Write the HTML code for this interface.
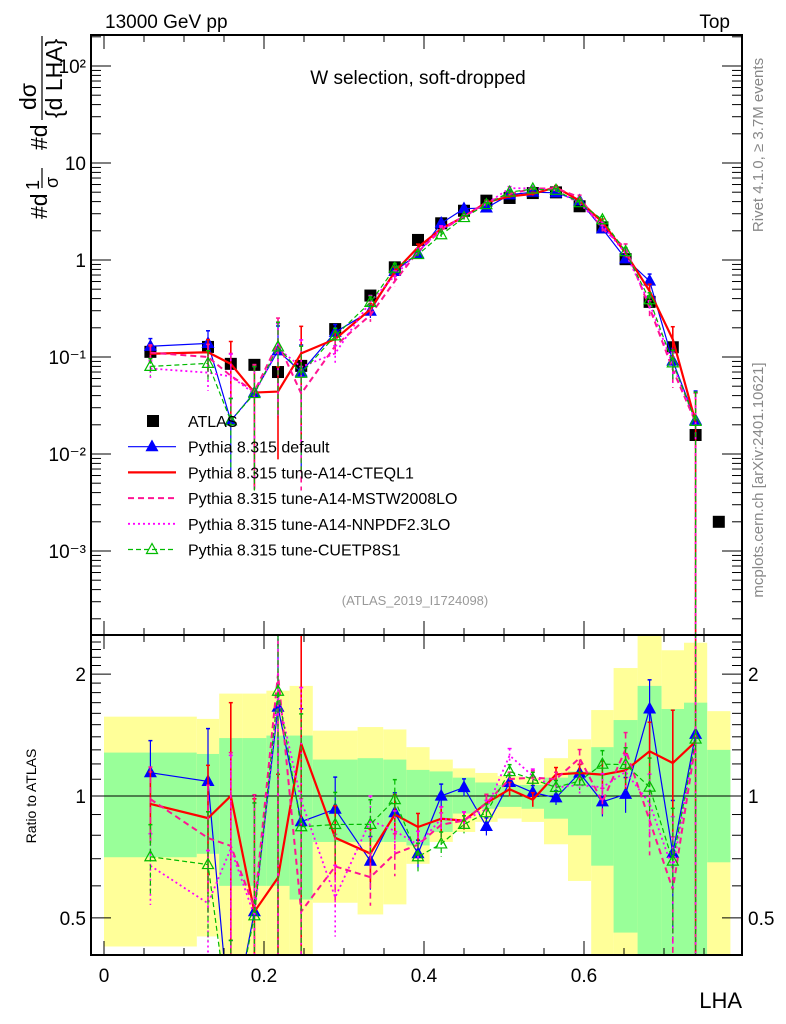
<!DOCTYPE html>
<html><head><meta charset="utf-8"><style>
html,body{margin:0;padding:0;background:#fff;overflow:hidden;width:786px;height:1024px;}
svg{display:block;font-family:"Liberation Sans","DejaVu Sans",sans-serif;}
</style></head><body>
<svg id="c" width="786" height="1024" viewBox="0 0 786 1024" xmlns="http://www.w3.org/2000/svg">
<defs>
<clipPath id="cm"><rect x="91" y="35" width="651" height="600"/></clipPath>
<clipPath id="cr"><rect x="91" y="635" width="651" height="320"/></clipPath>
</defs>
<rect x="0" y="0" width="786" height="1024" fill="#fff"/>
<g id="ratioBands" clip-path="url(#cr)"></g>
<g id="mainMarks" clip-path="url(#cm)"></g>
<g id="ratioMarks" clip-path="url(#cr)"></g>
<g id="axes"></g>
<text x="105" y="28" font-size="19">13000 GeV pp</text>
<text x="730" y="28" font-size="19" text-anchor="end">Top</text>
<text x="418" y="84" font-size="19" text-anchor="middle">W selection, soft-dropped</text>
<text x="415" y="605" font-size="13" fill="#999" text-anchor="middle">(ATLAS_2019_I1724098)</text>
<text transform="translate(763,145) rotate(-90)" font-size="15" fill="#888" text-anchor="middle">Rivet 4.1.0, ≥ 3.7M events</text>
<text transform="translate(763,480) rotate(-90)" font-size="15" fill="#888" text-anchor="middle">mcplots.cern.ch [arXiv:2401.10621]</text>
<g font-size="23">
<text transform="translate(47,219) rotate(-90)">#d</text>
<text transform="translate(39,190) rotate(-90)" font-size="18">1</text>
<line x1="42" y1="168" x2="42" y2="188" stroke="#000" stroke-width="1.2"/>
<text transform="translate(58,188) rotate(-90)" font-size="18">σ</text>
<text transform="translate(47,150) rotate(-90)">#d</text>
<text transform="translate(36,110) rotate(-90)">dσ</text>
<line x1="42" y1="36" x2="42" y2="120" stroke="#000" stroke-width="1.2"/>
<text transform="translate(62,118) rotate(-90)">{d LHA}</text>
</g>
<text transform="translate(36,796) rotate(-90)" font-size="14" text-anchor="middle">Ratio to ATLAS</text>
<text x="742" y="1008" font-size="22" text-anchor="end">LHA</text>
<g id="legend"></g>
</svg>
<script>
const binEdges=[0,0.116,0.144,0.173,0.203,0.232,0.261,0.317,0.349,0.378,0.407,0.436,0.464,0.492,0.522,0.55,0.58,0.609,0.637,0.667,0.697,0.725,0.754,0.783];
const atlas=[0.113,0.127,0.085,0.083,0.070,0.081,0.194,0.43,0.84,1.61,2.39,3.22,4.09,4.36,4.9,4.98,3.58,2.17,1.02,0.37,0.126,0.0157,0.0020];
const pyDefault=[0.129,0.138,0.022,0.043,0.116,0.070,0.180,0.297,0.764,1.16,2.39,3.38,3.44,4.71,5.0,4.93,4.08,2.10,1.03,0.607,0.091,0.0223];
const pyCTEQ=[0.108,0.112,0.085,0.043,0.044,0.109,0.153,0.31,0.756,1.35,2.10,2.80,3.93,4.53,4.80,5.63,4.08,2.45,1.18,0.477,0.152,0.0214];
const pyMSTW=[0.111,0.100,0.064,0.044,0.140,0.042,0.130,0.271,0.605,1.22,2.03,2.80,3.93,4.80,5.44,5.48,4.44,2.10,1.33,0.322,0.074,0.0212];
const pyNNPDF=[0.076,0.069,0.063,0.042,0.123,0.079,0.109,0.374,0.689,1.22,2.10,2.80,3.80,5.49,5.49,5.23,3.81,2.28,1.17,0.355,0.083,0.0217];
const pyCUETP=[0.080,0.086,0.022,0.042,0.127,0.068,0.165,0.366,0.823,1.14,1.82,2.74,3.72,5.01,5.39,5.23,3.90,2.60,1.22,0.389,0.087,0.0217];
const mcRelErr=[0.2,0.35,0.7,0.9,0.8,0.9,0.2,0.15,0.12,0.08,0.07,0.05,0.05,0.04,0.04,0.04,0.05,0.08,0.1,0.18,0.35,1.0];
const bandYellowHi=[1.57,1.55,1.79,1.79,1.82,1.87,1.45,1.48,1.46,1.32,1.23,1.17,1.14,1.12,1.11,1.24,1.38,1.63,2.07,2.6,2.29,2.39,1.62];
const bandGreenHi=[1.28,1.27,1.39,1.39,1.41,1.41,1.23,1.24,1.23,1.16,1.15,1.11,1.08,1.065,1.065,1.11,1.15,1.32,1.54,1.87,1.64,1.70,1.30];
const bandGreenLo=[0.706,0.72,0.60,0.60,0.60,0.555,0.77,0.77,0.77,0.755,0.815,0.905,0.93,0.94,0.93,0.879,0.80,0.673,0.46,0.3,0.3,0.3,0.686];
const bandYellowLo=[0.425,0.45,0.3,0.3,0.3,0.3,0.545,0.51,0.54,0.68,0.77,0.815,0.863,0.88,0.863,0.76,0.617,0.3,0.3,0.3,0.3,0.3,0.3];
const xTickLabels=["0","0.2","0.4","0.6"];
const mainTickLabels=["10⁻³","10⁻²","10⁻¹","1","10","10²"];
const ratioTickLabels=["0.5","1","2"];
const seriesNames=["Pythia 8.315 default","Pythia 8.315 tune-A14-CTEQL1","Pythia 8.315 tune-A14-MSTW2008LO","Pythia 8.315 tune-A14-NNPDF2.3LO","Pythia 8.315 tune-CUETP8S1"];

const NS="http://www.w3.org/2000/svg";
const X0=91,X1=742,MT=35,MB=635,RB=955;
const xs=v=>104+800*v;
const ym=v=>260-97*Math.log10(Math.max(v,1e-6));
const yr=r=>796-405*Math.log10(Math.max(r,1e-3));
function mk(tag,parent,attrs){const e=document.createElementNS(NS,tag);for(const k in attrs)e.setAttribute(k,attrs[k]);parent.appendChild(e);return e;}
const centers=binEdges.slice(0,-1).map((e,i)=>(e+binEdges[i+1])/2);

const gb=document.getElementById('ratioBands');
for(let i=0;i<atlas.length;i++){
  const xa=xs(binEdges[i]),xb=xs(binEdges[i+1]);
  let r=mk('rect',gb,{x:xa,y:yr(bandYellowHi[i]),width:xb-xa,height:yr(bandYellowLo[i])-yr(bandYellowHi[i]),fill:'#ffff99'});
  
  
  r=mk('rect',gb,{x:xa,y:yr(bandGreenHi[i]),width:xb-xa,height:yr(bandGreenLo[i])-yr(bandGreenHi[i]),fill:'#99ff99'});
  
  
}
mk('line',gb,{x1:X0,x2:X1,y1:yr(1),y2:yr(1),stroke:'#000','stroke-width':1});

const series=[
 {d:pyDefault,c:'#0000ff',w:1.2,dash:'',m:'tri'},
 {d:pyCTEQ,c:'#ff0000',w:2.2,dash:'',m:'none'},
 {d:pyMSTW,c:'#ff1493',w:2,dash:'6,4',m:'none'},
 {d:pyNNPDF,c:'#ff00ff',w:1.8,dash:'2,3',m:'none'},
 {d:pyCUETP,c:'#00bb00',w:1.2,dash:'5,3',m:'otri'}
];
const gm=document.getElementById('mainMarks'),gr=document.getElementById('ratioMarks');
function tri(g,x,y,col,open){const p=mk('polygon',g,{points:`${x},${y-6} ${x-5.5},${y+4} ${x+5.5},${y+4}`,fill:open?'none':col,stroke:col,'stroke-width':1.2});return p;}
atlas.forEach((v,i)=>{const s=mk('rect',gm,{x:xs(centers[i])-6,y:ym(v)-6,width:12,height:12,fill:'#000'});
 
 });
series.forEach((s,si)=>{
  [[gm,(v,i)=>ym(v)],[gr,(v,i)=>yr(v/atlas[i])]].forEach(([g,fy],pi)=>{
    const pts=s.d.map((v,i)=>xs(centers[i])+','+fy(v,i)).join(' ');
    const pl=mk('polyline',g,{points:pts,fill:'none',stroke:s.c,'stroke-width':s.w,'stroke-dasharray':s.dash});
    
    
    s.d.forEach((v,i)=>{
      const x=xs(centers[i]);const hi=v*(1+mcRelErr[i]),lo=v*(1-mcRelErr[i]);
      const y1=fy(hi,i),y2=fy(Math.max(lo,1e-6),i);
      mk('line',g,{x1:x,x2:x,y1:y1,y2:y2,stroke:s.c,'stroke-width':Math.min(s.w,1.6),'stroke-dasharray':s.dash});
      mk('line',g,{x1:x-2,x2:x+2,y1:y1,y2:y1,stroke:s.c,'stroke-width':1.5});
      if(s.m!=='none'){const t=tri(g,x,fy(v,i),s.c,s.m==='otri');
        
        }
    });
  });
});

const ga=document.getElementById('axes');
mk('rect',ga,{x:X0,y:MT,width:X1-X0,height:RB-MT,fill:'none',stroke:'#000','stroke-width':2});
mk('line',ga,{x1:X0,x2:X1,y1:MB,y2:MB,stroke:'#000','stroke-width':2});
for(let k=0;k<=15;k++){const v=k*0.05,x=xs(v);if(x>X1)break;const L=(k%4===0)?14:7;
  [[MT,1],[MB,-1],[MB,1],[RB,-1]].forEach(([y,d])=>mk('line',ga,{x1:x,x2:x,y1:y,y2:y+d*L,stroke:'#000','stroke-width':1}));}
xTickLabels.forEach((t,i)=>{const tx=mk('text',ga,{x:xs(i*0.2),y:982,'font-size':19,'text-anchor':'middle'});tx.textContent=t;
 
 });
for(let e=-4;e<=2;e++){for(let m=1;m<10;m++){const v=m*Math.pow(10,e),y=ym(v);if(y<MT||y>MB)continue;const L=m===1?20:10;
  mk('line',ga,{x1:X0,x2:X0+L,y1:y,y2:y,stroke:'#000'});mk('line',ga,{x1:X1,x2:X1-L,y1:y,y2:y,stroke:'#000'});}}
mainTickLabels.forEach((t,i)=>{const tx=mk('text',ga,{x:86,y:ym(Math.pow(10,i-3))+7,'font-size':19,'text-anchor':'end'});tx.textContent=t;
 
 });
[0.5,0.6,0.7,0.8,0.9,1,1.1,1.2,1.3,1.4,1.5,1.6,1.7,1.8,1.9,2,2.1,2.2,2.3,2.4].forEach(r=>{const y=yr(r);const L=(r===0.5||r===1||r===2)?20:10;
  mk('line',ga,{x1:X0,x2:X0+L,y1:y,y2:y,stroke:'#000'});mk('line',ga,{x1:X1,x2:X1-L,y1:y,y2:y,stroke:'#000'});});
ratioTickLabels.forEach(t=>{const y=yr(parseFloat(t))+7;
  let tx=mk('text',ga,{x:86,y:y,'font-size':19,'text-anchor':'end'});tx.textContent=t;
  
  
  tx=mk('text',ga,{x:748,y:y,'font-size':19});tx.textContent=t;
  
  });

const gl=document.getElementById('legend');
let ly=421;
let lr=mk('rect',gl,{x:147,y:ly-6,width:12,height:12,fill:'#000'});
let lt=mk('text',gl,{x:188,y:ly+6,'font-size':16});lt.textContent='ATLAS';


series.forEach((s,i)=>{const y=ly+25.7*(i+1);
  mk('line',gl,{x1:128,x2:176,y1:y,y2:y,stroke:s.c,'stroke-width':s.w,'stroke-dasharray':s.dash});
  if(s.m!=='none')tri(gl,152,y,s.c,s.m==='otri');
  const t=mk('text',gl,{x:188,y:y+6,'font-size':16});t.textContent=seriesNames[i];
  
  });
</script>
</body></html>
